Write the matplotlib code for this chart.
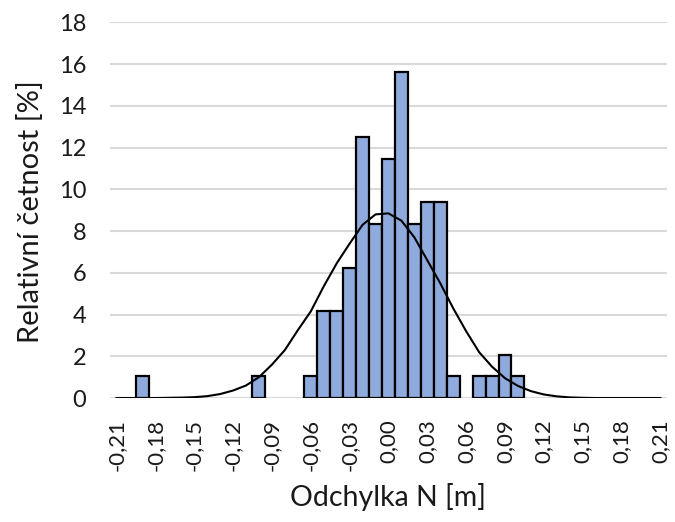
import numpy as np
import matplotlib
matplotlib.use("Agg")
from matplotlib import pyplot as plt

# histogram classes (m), relative frequency (%) and fitted normal curve (%)
classes = [-0.21, -0.20, -0.19, -0.18, -0.17, -0.16, -0.15, -0.14, -0.13, -0.12, -0.11,
           -0.10, -0.09, -0.08, -0.07, -0.06, -0.05, -0.04, -0.03, -0.02, -0.01,
           0.00, 0.01, 0.02, 0.03, 0.04, 0.05, 0.06, 0.07, 0.08, 0.09, 0.10,
           0.11, 0.12, 0.13, 0.14, 0.15, 0.16, 0.17, 0.18, 0.19, 0.20, 0.21]

rel_freq = [0, 0, 1.04, 0, 0, 0, 0, 0, 0, 0, 0,
            1.04, 0, 0, 0, 1.04, 4.17, 4.17, 6.25, 12.5, 8.33,
            11.46, 15.63, 8.33, 9.38, 9.38, 1.04, 0, 1.04, 1.04, 2.08, 1.04,
            0, 0, 0, 0, 0, 0, 0, 0, 0, 0, 0]

normal_curve = [0.0, 0.0, 0.0, 0.0, 0.01, 0.02, 0.04, 0.09, 0.19, 0.36, 0.6,
                1.0, 1.6, 2.3, 3.25, 4.15, 5.35, 6.45, 7.4, 8.3, 8.8,
                8.85, 8.5, 7.7, 6.6, 5.5, 4.3, 3.2, 2.2, 1.5, 0.95, 0.58,
                0.33, 0.17, 0.08, 0.03, 0.01, 0.0, 0.0, 0.0, 0.0, 0.0, 0.0]

tick_vals = [-0.21, -0.18, -0.15, -0.12, -0.09, -0.06, -0.03, 0.00,
             0.03, 0.06, 0.09, 0.12, 0.15, 0.18, 0.21]
tick_labels = ['-0,21', '-0,18', '-0,15', '-0,12', '-0,09', '-0,06', '-0,03', '0,00',
               '0,03', '0,06', '0,09', '0,12', '0,15', '0,18', '0,21']

plt.rcParams['font.family'] = ['Lato', 'DejaVu Sans']

fig = plt.figure(figsize=(6.75, 5.22), dpi=100)
ax = fig.add_axes([0.163, 0.2375, 0.825, 0.7195])

x = np.array(classes)
y = np.array(rel_freq)
nz = y > 0
ax.bar(x[nz], y[nz], width=0.01, color='#8FAADC', edgecolor='black',
       linewidth=1.6, zorder=2)
ax.plot(x, normal_curve, color='black', linewidth=1.5, zorder=3)

ax.set_xlim(-0.215, 0.215)
ax.set_ylim(0, 18)
ax.set_yticks(range(0, 19, 2))
ax.set_xticks(tick_vals)
ax.set_xticklabels(tick_labels, rotation=90)
ax.tick_params(axis='both', length=0, colors='#1a1a1a')
ax.tick_params(axis='x', pad=15, labelsize=16)
ax.tick_params(axis='y', pad=17, labelsize=17)

ax.grid(axis='y', color='#d9d9d9', linewidth=1.5, zorder=0)
ax.set_axisbelow(True)
for s in ax.spines.values():
    s.set_visible(False)

xl = ax.set_xlabel('Odchylka N [m]', fontsize=20.5, color='#1a1a1a')
yl = ax.set_ylabel('Relativní četnost [%]', fontsize=21, color='#1a1a1a')
xl.set_va('center')
yl.set_va('center')
ax.xaxis.set_label_coords(0.5, -0.2635)
ax.yaxis.set_label_coords(-0.1436, 0.495)

fig.savefig('out.png', dpi=100)
